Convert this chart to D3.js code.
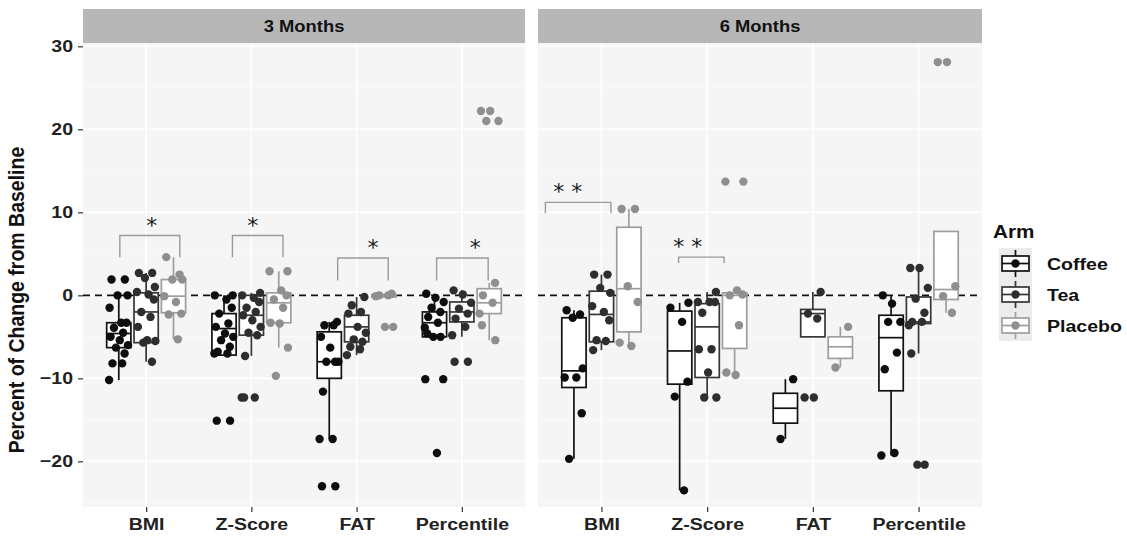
<!DOCTYPE html>
<html>
<head>
<meta charset="utf-8">
<script src="https://cdn.jsdelivr.net/npm/d3@7"></script>
<style>
  body { margin: 0; background: #fff; }
  svg { display: block; font-family: "Liberation Sans", Arial, sans-serif; }
</style>
</head>
<body>
<div id="chart"></div>
<script>
// --- data ---
const periods = ["3 Months", "6 Months"];
const measures = ["BMI", "Z-Score", "FAT", "Percentile"];
const arms = ["Coffee", "Tea", "Placebo"];
const yTicks = [-20, -10, 0, 10, 20, 30];
const yMinor = [-25, -15, -5, 5, 15, 25];

// box stats per measure: [low whisker, q1, median, q3, high whisker]
const box3Coffee  = [[-10.2, -6.3, -4.6, -3.3, 0.0], [-7.2, -7.2, -4.0, -2.2, 0.0], [-17.3, -10.0, -8.0, -4.4, -3.2], [-5.0, -5.0, -3.3, -2.0, 0.2]];
const box3Tea     = [[-8.0, -5.7, -2.0, 0.3, 2.7], [-7.3, -4.8, -2.4, 0.0, 0.3], [-7.2, -5.6, -3.8, -2.4, -0.2], [-5.0, -3.2, -2.0, -0.8, 0.6]];
const box3Placebo = [[-5.3, -2.1, -0.1, 1.9, 4.6], [-6.3, -3.3, -0.9, 0.3, 2.9], [-0.2, -0.2, 0.0, 0.0, 0.2], [-5.4, -2.2, -0.9, 0.8, 1.5]];
const box6Coffee  = [[-19.7, -11.1, -9.1, -2.7, -1.8], [-23.5, -10.7, -6.7, -1.9, -0.9], [-17.3, -15.4, -13.6, -11.8, -10.1], [-19.3, -11.5, -5.1, -2.4, 0.0]];
const box6Tea     = [[-6.6, -5.6, -2.3, 0.5, 2.5], [-12.3, -9.9, -3.8, -1.0, 0.4], [-5.0, -5.0, -2.2, -1.7, 0.4], [-7.0, -3.4, -3.2, -0.2, 3.3]];
const box6Placebo = [[-6.1, -4.4, 0.8, 8.2, 10.4], [-9.9, -6.4, 0.0, 0.3, 0.6], [-8.7, -7.6, -6.2, -5.0, -3.8], [-2.1, -0.5, 0.7, 7.7, 7.7]];

// individual observations per measure
const pts3Coffee = [
  [1.9, 1.9, 0, 0, -1.5, -3.3, -3.3, -3.9, -4.5, -5.0, -5.4, -6.0, -6.3, -7.0, -8.2, -8.2, -10.2],
  [0, 0, -0.5, -1.5, -2.2, -3.4, -3.8, -4.6, -5.0, -5.4, -6.2, -6.8, -7.0, -7.0, -15.1, -15.1],
  [-3.2, -3.6, -3.6, -5.0, -6.3, -8.0, -8.0, -8.0, -11.6, -17.3, -17.3, -23.0, -23.0],
  [0.2, -0.3, -0.8, -1.5, -2.0, -2.6, -3.3, -3.9, -4.6, -5.0, -5.0, -10.1, -10.1, -19.0]];
const pts3Tea = [
  [2.7, 2.7, 2.1, 1.0, 0.4, 0.1, -0.5, -2.0, -2.6, -3.8, -5.4, -5.5, -5.7, -8.0],
  [0.3, 0, -0.3, -0.8, -1.5, -2.0, -2.4, -3.0, -3.8, -4.5, -4.8, -7.3, -12.3, -12.3, -12.3],
  [-0.2, -1.2, -2.0, -2.2, -3.8, -4.5, -5.3, -5.6, -6.2, -6.5, -7.2],
  [0.6, 0.1, -0.9, -1.6, -2.2, -2.8, -3.8, -4.8, -8.0, -8.0]];
const pts3Placebo = [
  [4.6, 2.5, 1.9, 1.9, -0.1, -0.8, -2.2, -2.3, -5.3],
  [2.9, 2.9, 0.6, 0, -0.5, -1.5, -3.3, -3.4, -6.3, -9.7],
  [0.2, 0, 0, -0.1, -3.8, -3.8],
  [22.2, 22.2, 21.0, 21.0, 1.5, 0, -0.9, -2.2, -3.6, -5.4]];
const pts6Coffee = [
  [-1.8, -2.3, -2.7, -8.8, -9.9, -9.9, -14.2, -19.7],
  [-0.9, -1.5, -3.2, -10.4, -12.2, -23.5],
  [-10.1, -17.3],
  [0, -1.0, -3.2, -3.2, -6.9, -8.9, -19.0, -19.3]];
const pts6Tea = [
  [2.5, 2.5, 0.9, 0.3, -1.3, -2.0, -3.0, -5.4, -5.5, -6.6],
  [0.4, -0.8, -0.8, -0.8, -2.1, -6.5, -6.5, -9.3, -12.3, -12.3],
  [0.4, -2.2, -2.8, -12.3, -12.3],
  [3.3, 3.3, 0.9, -0.4, -2.1, -3.2, -3.2, -3.6, -7.0, -20.4, -20.4]];
const pts6Placebo = [
  [10.4, 10.4, 1.1, -0.8, -5.7, -6.1],
  [13.7, 13.7, 0.6, 0.1, 0, -3.6, -9.3, -9.6],
  [-3.8, -8.7],
  [28.1, 28.1, 1.1, -0.1, -2.1]];

// significance brackets: period, measure, top y, leg end y, label
const sigPeriod  = [0, 0, 0, 0, 1, 1];
const sigMeasure = [0, 1, 2, 3, 0, 1];
const sigTop     = [7.2, 7.2, 4.5, 4.5, 11.2, 4.6];
const sigLeg     = [4.6, 4.6, 1.8, 1.8, 9.9, 3.9];
const sigLabel   = ["*", "*", "*", "*", "* *", "* *"];

// --- layout ---
const width = 1127, height = 540;
const panelTop = 43, panelBottom = 507;
const stripTop = 9;
const panelX = [[83, 525], [538, 982]];
const stretch = 1.15; // text in the picture is a bit wider than normal

const armColor = { Coffee: "#0d0d0d", Tea: "#2e2e2e", Placebo: "#8f8f8f" };
const boxStroke = { Coffee: "#111111", Tea: "#363636", Placebo: "#9e9e9e" };

const boxes = [[box3Coffee, box3Tea, box3Placebo], [box6Coffee, box6Tea, box6Placebo]];
const points = [[pts3Coffee, pts3Tea, pts3Placebo], [pts6Coffee, pts6Tea, pts6Placebo]];
// bracket horizontal extents (in category steps) and where the stars sit along it
const sigSpan = [[-0.25, 0.32], [-0.18, 0.30], [-0.18, 0.30], [-0.24, 0.25], [-0.53, 0.09], [-0.27, 0.16]];
const sigLabelAt = [0.53, 0.4, 0.7, 0.75, 0.34, 0.2];

const svg = d3.select("#chart").append("svg")
  .attr("width", width)
  .attr("height", height);

const y = d3.scaleLinear().domain([-25.5, 30.4]).range([panelBottom, panelTop]);

function addText(parent, x, yy, txt, size, anchor) {
  return parent.append("text")
    .attr("transform", `translate(${x},${yy}) scale(${stretch},1)`)
    .attr("text-anchor", anchor || "start")
    .attr("font-size", size).attr("font-weight", "bold")
    .attr("fill", "#111").text(txt);
}

// a fixed jitter pattern so the dots don't sit on one vertical line
const jitterPattern = [-0.3, 0.25, -0.05, 0.36, -0.38, 0.1, 0.32, -0.2, 0.18, -0.34, 0.04, 0.38, -0.12, 0.24, -0.26, 0.14, -0.4];

periods.forEach((period, p) => {
  const [x0, x1] = panelX[p];
  const x = d3.scalePoint().domain(measures).range([x0, x1]).padding(0.6);
  const step = x.step();
  const dodge = 0.26 * step;
  const bw = 0.23 * step;
  const g = svg.append("g");

  // panel background + grid
  g.append("rect").attr("x", x0).attr("y", panelTop)
    .attr("width", x1 - x0).attr("height", panelBottom - panelTop)
    .attr("fill", "#f5f5f5");
  g.selectAll(".minor").data(yMinor).enter().append("line")
    .attr("x1", x0).attr("x2", x1)
    .attr("y1", d => y(d)).attr("y2", d => y(d))
    .attr("stroke", "#fdfdfd").attr("stroke-width", 0.8);
  g.selectAll(".major").data(yTicks).enter().append("line")
    .attr("x1", x0).attr("x2", x1)
    .attr("y1", d => y(d)).attr("y2", d => y(d))
    .attr("stroke", "#ffffff").attr("stroke-width", 1.6);
  g.selectAll(".vgrid").data(measures).enter().append("line")
    .attr("x1", d => x(d)).attr("x2", d => x(d))
    .attr("y1", panelTop).attr("y2", panelBottom)
    .attr("stroke", "#ffffff").attr("stroke-width", 1.6);

  // strip
  g.append("rect").attr("x", x0).attr("y", stripTop)
    .attr("width", x1 - x0).attr("height", panelTop - stripTop)
    .attr("fill", "#b7b7b7");
  addText(g, (x0 + x1) / 2, (stripTop + panelTop) / 2 + 6, period, 16, "middle");

  // dashed zero line
  g.append("line").attr("x1", x0).attr("x2", x1)
    .attr("y1", y(0)).attr("y2", y(0))
    .attr("stroke", "#111").attr("stroke-width", 1.6)
    .attr("stroke-dasharray", "7,5");

  // boxplots
  arms.forEach((arm, a) => {
    const off = (a - 1) * dodge;
    boxes[p][a].forEach((s, m) => {
      const cx = x(measures[m]) + off;
      const [lo, q1, med, q3, hi] = s;
      const bg = g.append("g").attr("stroke", boxStroke[arm]).attr("stroke-width", 1.7);
      bg.append("line").attr("x1", cx).attr("x2", cx).attr("y1", y(hi)).attr("y2", y(q3));
      bg.append("line").attr("x1", cx).attr("x2", cx).attr("y1", y(q1)).attr("y2", y(lo));
      bg.append("rect").attr("x", cx - bw / 2).attr("y", y(q3))
        .attr("width", bw).attr("height", Math.max(1, y(q1) - y(q3)))
        .attr("fill", "#fff");
      bg.append("line").attr("x1", cx - bw / 2).attr("x2", cx + bw / 2)
        .attr("y1", y(med)).attr("y2", y(med));
    });
  });

  // jittered points
  arms.forEach((arm, a) => {
    const off = (a - 1) * dodge;
    points[p][a].forEach((vals, m) => {
      g.selectAll(null).data(vals).enter().append("circle")
        .attr("cx", (d, i) => x(measures[m]) + off + jitterPattern[(i + m * 3) % jitterPattern.length] * bw)
        .attr("cy", d => y(d))
        .attr("r", 4.2)
        .attr("fill", armColor[arm]);
    });
  });

  // x axis
  const xAxis = svg.append("g")
    .attr("transform", `translate(0,${panelBottom})`)
    .call(d3.axisBottom(x).tickSize(5).tickPadding(6));
  xAxis.select(".domain").remove();
  xAxis.selectAll(".tick line").attr("stroke", "#333").attr("stroke-width", 1.2);
  xAxis.selectAll(".tick text").attr("font-size", 17).attr("font-weight", "bold")
    .attr("fill", "#222").attr("font-family", "Liberation Sans, Arial, sans-serif")
    .attr("transform", `scale(${stretch},1)`);

  // significance brackets
  sigPeriod.forEach((sp, k) => {
    if (sp !== p) return;
    const c = x(measures[sigMeasure[k]]);
    const bx0 = c + sigSpan[k][0] * step, bx1 = c + sigSpan[k][1] * step;
    g.append("path")
      .attr("d", `M${bx0},${y(sigLeg[k])}V${y(sigTop[k])}H${bx1}V${y(sigLeg[k])}`)
      .attr("fill", "none").attr("stroke", "#9a9a9a").attr("stroke-width", 1.4);
    g.append("text").attr("x", bx0 + (bx1 - bx0) * sigLabelAt[k]).attr("y", y(sigTop[k]) - 3)
      .attr("text-anchor", "middle").attr("font-size", 22)
      .attr("font-family", "DejaVu Sans, sans-serif")
      .attr("fill", "#1a1a1a").text(sigLabel[k]);
  });
});

// y axis
const yAxis = svg.append("g")
  .attr("transform", `translate(${panelX[0][0]},0)`)
  .call(d3.axisLeft(y).tickValues(yTicks).tickSize(5).tickPadding(5));
yAxis.select(".domain").remove();
yAxis.selectAll(".tick line").attr("stroke", "#333").attr("stroke-width", 1.2);
yAxis.selectAll(".tick text").attr("font-size", 17).attr("font-weight", "bold")
  .attr("fill", "#222").attr("font-family", "Liberation Sans, Arial, sans-serif")
  .attr("x", -10 / stretch)
  .attr("transform", `scale(${stretch},1)`);

svg.append("text")
  .attr("transform", `translate(24,300) rotate(-90) scale(1,${stretch})`)
  .attr("text-anchor", "middle").attr("font-size", 19.5).attr("font-weight", "bold")
  .attr("fill", "#111").text("Percent of Change from Baseline");

// legend
const lg = svg.append("g").attr("transform", "translate(996,0)");
addText(lg, -3, 238, "Arm", 18);
arms.forEach((arm, a) => {
  const ky = 248 + a * 31;
  lg.append("rect").attr("x", 3).attr("y", ky).attr("width", 33).attr("height", 31)
    .attr("fill", "#ececec");
  const kg = lg.append("g").attr("stroke", boxStroke[arm]).attr("stroke-width", 1.7);
  kg.append("line").attr("x1", 19.5).attr("x2", 19.5).attr("y1", ky + 2).attr("y2", ky + 29);
  kg.append("rect").attr("x", 6).attr("y", ky + 8).attr("width", 27).attr("height", 15).attr("fill", "#fff");
  kg.append("line").attr("x1", 6).attr("x2", 33).attr("y1", ky + 15.5).attr("y2", ky + 15.5);
  lg.append("circle").attr("cx", 19.5).attr("cy", ky + 15.5).attr("r", 4.2).attr("fill", armColor[arm]);
  addText(lg, 51, ky + 22, arm, 17);
});
</script>
</body>
</html>
